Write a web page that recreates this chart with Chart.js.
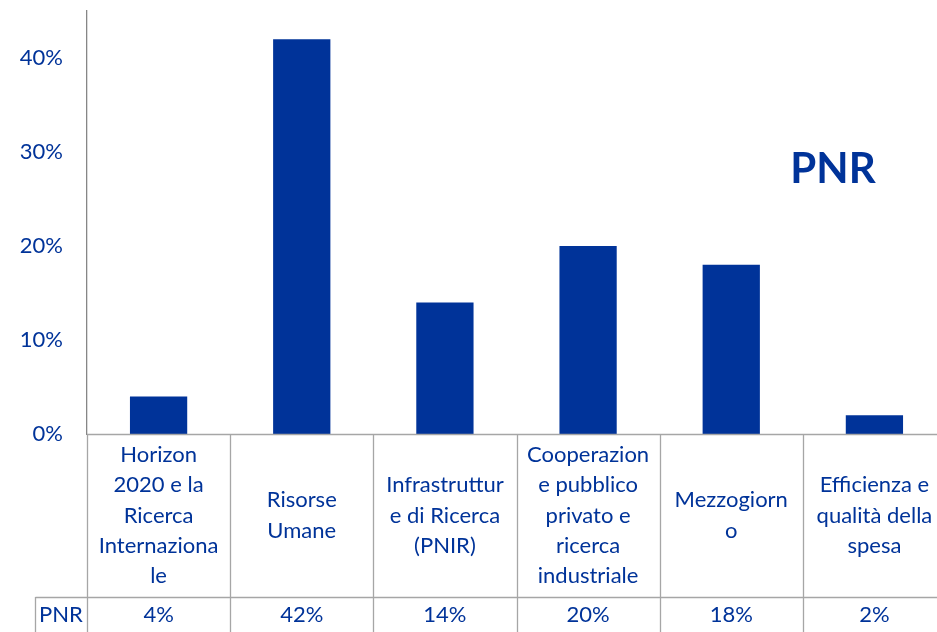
<!DOCTYPE html>
<html>
<head>
<meta charset="utf-8">
<script src="https://cdn.jsdelivr.net/npm/chart.js@4.4.0/dist/chart.umd.min.js"></script>
<style>
  html, body { margin: 0; padding: 0; background: #fff; overflow: hidden; }
  #wrap { width: 946px; height: 632px; }
</style>
</head>
<body>
<div id="wrap"><canvas id="pnrChart"></canvas></div>
<script>
// categories, already wrapped as in the picture
const categoryLines = [
  ["Horizon", "2020 e la", "Ricerca", "Internaziona", "le"],
  ["Risorse", "Umane"],
  ["Infrastruttur", "e di Ricerca", "(PNIR)"],
  ["Cooperazion", "e pubblico", "privato e", "ricerca", "industriale"],
  ["Mezzogiorn", "o"],
  ["Efficienza e", "qualità della", "spesa"],
];
const seriesName = "PNR";
const pnrValues = [0.04, 0.42, 0.14, 0.2, 0.18, 0.02];
const yTicks = [0, 0.1, 0.2, 0.3, 0.4];

const blue = "#003399";
const grid = "#A6A6A6";
const font = "Lato";

const tablePlugin = {
  id: "dataTable",
  afterDraw(chart) {
    const ctx = chart.ctx;
    const x = chart.scales.x;
    const area = chart.chartArea;
    const bottom = chart.height;
    const labelBottom = area.bottom + 163;
    const half = (x.getPixelForValue(1) - x.getPixelForValue(0)) / 2;

    ctx.save();
    ctx.strokeStyle = grid;
    ctx.lineWidth = 1.3;
    ctx.beginPath();
    // baseline and row line
    ctx.moveTo(area.left, area.bottom + 0.5);
    ctx.lineTo(chart.width, area.bottom + 0.5);
    ctx.moveTo(35.5, labelBottom + 0.5);
    ctx.lineTo(chart.width, labelBottom + 0.5);
    ctx.moveTo(35.5, labelBottom);
    ctx.lineTo(35.5, bottom);
    for (let i = 0; i < pnrValues.length; i++) {
      const left = Math.round(x.getPixelForValue(i) - half) + 0.5;
      ctx.moveTo(left, area.bottom);
      ctx.lineTo(left, bottom);
    }
    ctx.stroke();

    ctx.fillStyle = blue;
    ctx.font = "22px " + font;
    ctx.textAlign = "center";
    ctx.textBaseline = "middle";
    const mid = (area.bottom + labelBottom) / 2;
    const lh = 30.2;
    categoryLines.forEach((lines, i) => {
      const cx = x.getPixelForValue(i);
      const y0 = mid - ((lines.length - 1) * lh) / 2;
      lines.forEach((t, j) => ctx.fillText(t, cx, y0 + j * lh));
      ctx.fillText(Math.round(pnrValues[i] * 100) + "%", cx, labelBottom + 18);
    });
    ctx.fillText(seriesName, 61, labelBottom + 18);

    ctx.font = "bold 42px " + font;
    ctx.fillText(seriesName, 833, 169);
    ctx.restore();
  },
};

const configPnrChart = {
  type: "bar",
  data: {
    labels: categoryLines.map((l) => l.join(" ")),
    datasets: [
      {
        label: seriesName,
        data: pnrValues,
        backgroundColor: blue,
        borderWidth: 0,
        categoryPercentage: 1,
        barPercentage: 0.4,
      },
    ],
  },
  options: {
    responsive: true,
    maintainAspectRatio: false,
    animation: false,
    layout: {
      padding: { top: 11, bottom: 198, left: 0, right: 0 },
    },
    scales: {
      x: {
        display: false,
      },
      y: {
        min: 0,
        max: 0.45,
        afterBuildTicks: (scale) => {
          scale.ticks = yTicks.map((v) => ({ value: v }));
        },
        afterFit: (scale) => {
          scale.width = 87;
          scale.paddingTop = 0;
          scale.paddingBottom = 0;
        },
        grid: { display: false, drawTicks: false },
        border: { display: true, color: "#868686", width: 1.3 },
        ticks: {
          padding: 24,
          color: blue,
          font: { family: font, size: 22 },
          callback: (v) => Math.round(v * 100) + "%",
        },
      },
    },
    plugins: {
      legend: { display: false },
      tooltip: { enabled: false },
    },
  },
  plugins: [tablePlugin],
};

new Chart(document.getElementById("pnrChart"), configPnrChart);
</script>
</body>
</html>
